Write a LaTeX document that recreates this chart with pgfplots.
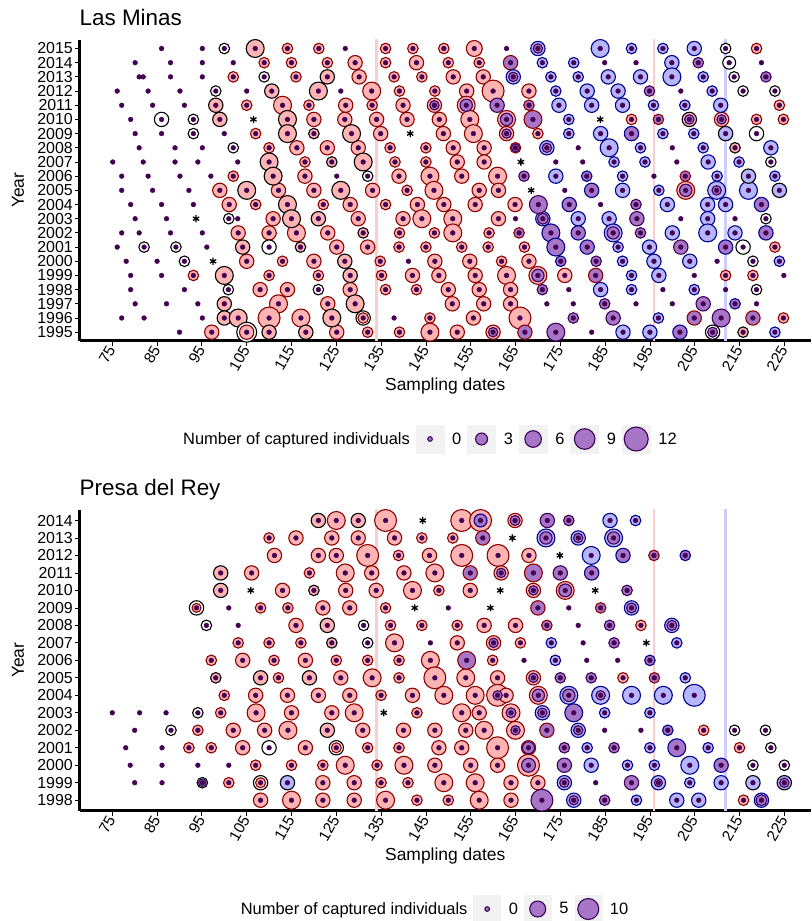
\documentclass[border=0pt]{standalone}
\usepackage{pgfplots}
\usepackage{pgfplotstable}
\pgfplotsset{compat=1.18}
\usepackage{fontspec}
\setmainfont{Liberation Sans}
\definecolor{pinkF}{RGB}{255,180,180}
\definecolor{redB}{RGB}{140,0,0}
\definecolor{blueF}{RGB}{182,182,255}
\definecolor{navyB}{RGB}{0,0,140}
\definecolor{purpF}{RGB}{168,118,198}
\definecolor{purpB}{RGB}{60,0,90}
\definecolor{dotC}{RGB}{68,1,84}
\definecolor{refP}{RGB}{255,205,205}
\definecolor{refB}{RGB}{205,205,255}
\definecolor{keyG}{RGB}{242,242,242}

% Las Minas, outer circles: d = sampling day, y = year, c = class, r = radius
\pgfplotstableread{
d y c r
86.0 2015 0 0
95.1 2015 0 0
100.0 2015 4 5.3
106.9 2015 5 9
114.1 2015 1 5.3
121.1 2015 1 5.3
127.0 2015 0 0
136.0 2015 1 5.3
142.1 2015 1 5.3
149.0 2015 1 5.3
155.8 2015 1 8
163.0 2015 0 0
170.0 2015 2 7.2
183.9 2015 2 9
190.9 2015 2 5.3
197.9 2015 2 5.3
204.9 2015 2 7.2
211.9 2015 4 5.3
218.8 2015 1 5.3
80.1 2014 0 0
88.0 2014 0 0
95.1 2014 0 0
102.0 2014 0 0
108.9 2014 1 5.3
115.0 2014 1 5.3
123.0 2014 1 5.3
129.2 2014 1 7.2
136.0 2014 1 5.3
142.9 2014 1 7.2
150.0 2014 1 5.3
156.9 2014 1 5.3
163.9 2014 7 7.2
171.0 2014 2 5.3
178.0 2014 2 5.3
184.9 2014 0 0
191.9 2014 0 0
199.9 2014 2 7.2
205.8 2014 3 5.3
212.7 2014 4 6.5
219.9 2014 0 0
81.0 2013 0 0
81.9 2013 0 0
88.0 2013 0 0
95.1 2013 0 0
102.0 2013 1 5.3
108.9 2013 4 5.3
116.0 2013 1 5.3
123.0 2013 5 7.2
130.1 2013 1 7.2
137.9 2013 1 5.3
144.1 2013 1 5.3
151.1 2013 1 7.2
157.8 2013 1 7.2
164.5 2013 2 7.2
172.9 2013 2 5.3
179.0 2013 2 5.3
185.7 2013 2 7.2
192.9 2013 2 7.2
199.9 2013 2 9
206.9 2013 2 5.3
213.8 2013 4 5.3
220.9 2013 3 5.3
76.1 2012 0 0
83.0 2012 0 0
90.1 2012 0 0
98.1 2012 4 5.3
105.0 2012 0 0
110.6 2012 5 7.2
121.0 2012 5 9
126.0 2012 0 0
132.9 2012 1 9
139.1 2012 1 5.3
147.0 2012 1 5.3
154.1 2012 1 7.2
160.0 2012 1 11
168.0 2012 1 7.2
174.0 2012 2 5.3
181.0 2012 2 7.2
187.9 2012 2 7.2
194.9 2012 3 5.3
201.9 2012 0 0
208.9 2012 2 5.3
215.8 2012 4 5.3
222.9 2012 4 5.3
77.1 2011 0 0
84.0 2011 0 0
91.1 2011 0 0
98.1 2011 5 7.2
105.0 2011 1 5.3
113.0 2011 1 9
118.9 2011 1 5.3
127.1 2011 1 7.2
133.0 2011 1 5.3
139.9 2011 1 7.2
146.9 2011 1 7.2
154.0 2011 1 9
160.9 2011 3 7.2
168.0 2011 7 5.3
174.7 2011 2 7.2
182.0 2011 2 7.2
188.9 2011 2 7.2
195.8 2011 2 5.3
202.8 2011 2 5.3
210.8 2011 2 7.2
223.9 2011 1 5.3
79.1 2010 0 0
86.0 2010 4 7.2
93.1 2010 4 5.3
99.0 2010 5 7.2
106.5 2010 9 0
114.1 2010 5 9
120.0 2010 1 7.2
126.9 2010 1 7.2
134.0 2010 1 7.2
140.8 2010 1 7.2
148.0 2010 1 7.2
154.8 2010 1 9
163.0 2010 1 9
168.9 2010 7 9
176.9 2010 2 5.3
183.9 2010 9 0
190.9 2010 1 5.3
196.9 2010 7 5.3
203.8 2010 5 7.2
211.0 2010 1 7.2
218.8 2010 1 5.3
224.8 2010 1 5.3
80.1 2009 0 0
86.0 2009 0 0
93.1 2009 4 5.3
100.0 2009 0 0
107.0 2009 1 5.3
114.1 2009 5 9
120.0 2009 5 5.3
128.4 2009 5 9
134.9 2009 1 7.2
141.5 2009 9 0
148.9 2009 1 7.2
155.6 2009 1 9
163.0 2009 1 7.2
170.0 2009 1 5.3
176.9 2009 2 5.3
184.0 2009 2 7.2
190.9 2009 8 7.2
197.9 2009 2 5.3
204.8 2009 2 5.3
211.9 2009 6 7.2
218.8 2009 4 7.2
81.0 2008 0 0
89.0 2008 0 0
95.1 2008 0 0
102.0 2008 4 5.3
110.0 2008 1 5.3
116.2 2008 1 7.2
123.0 2008 1 7.2
129.9 2008 1 7.2
137.0 2008 1 5.3
145.0 2008 1 5.3
151.1 2008 1 7.2
158.0 2008 1 7.2
165.0 2008 1 5.3
172.0 2008 2 7.2
179.0 2008 0 0
185.9 2008 2 9
192.9 2008 2 5.3
200.0 2008 0 0
206.9 2008 2 5.3
214.0 2008 5 5.3
222.0 2008 2 7.2
75.1 2007 0 0
81.9 2007 0 0
89.0 2007 0 0
94.1 2007 0 0
103.0 2007 0 0
110.0 2007 5 9
118.0 2007 1 5.3
124.0 2007 5 5.3
131.0 2007 5 9
138.1 2007 1 5.3
145.0 2007 1 5.3
152.0 2007 1 7.2
158.0 2007 1 7.2
166.2 2007 9 0
174.0 2007 0 0
180.0 2007 0 0
187.0 2007 2 5.3
193.9 2007 2 5.3
201.0 2007 0 0
208.0 2007 2 7.2
214.9 2007 2 5.3
222.0 2007 4 5.3
77.1 2006 0 0
83.0 2006 0 0
90.1 2006 0 0
97.0 2006 0 0
102.0 2006 1 5.3
110.9 2006 5 9
118.0 2006 1 7.2
125.1 2006 0 0
132.0 2006 4 5.3
139.0 2006 1 7.2
145.9 2006 1 9
153.0 2006 1 7.2
161.0 2006 1 9
166.9 2006 3 5.3
174.0 2006 2 7.2
180.9 2006 8 5.3
188.9 2006 2 5.3
195.9 2006 0 0
202.9 2006 7 5.3
210.0 2006 2 5.3
217.0 2006 6 7.2
222.9 2006 2 5.3
77.1 2005 0 0
84.0 2005 0 0
92.1 2005 0 0
99.0 2005 1 7.2
105.0 2005 5 9
112.1 2005 1 7.2
120.0 2005 1 7.2
126.0 2005 5 9
133.1 2005 1 7.2
140.8 2005 1 5.3
146.8 2005 1 9
156.9 2005 1 7.2
161.2 2005 1 7.2
168.5 2005 9 0
176.0 2005 0 0
182.0 2005 8 7.2
188.9 2005 2 7.2
197.0 2005 2 5.3
203.0 2005 1 9
209.9 2005 2 9
217.0 2005 2 9
223.9 2005 6 7.2
79.1 2004 0 0
86.0 2004 0 0
93.1 2004 0 0
101.1 2004 1 7.2
107.0 2004 1 5.3
114.1 2004 5 9
122.1 2004 1 5.3
128.1 2004 1 7.2
136.0 2004 1 5.3
143.1 2004 1 7.2
149.0 2004 1 7.2
156.0 2004 1 7.2
164.9 2004 1 7.2
170.1 2004 3 9
177.0 2004 8 7.2
184.0 2004 0 0
191.9 2004 3 5.3
198.9 2004 2 7.2
207.9 2004 2 7.2
211.9 2004 2 7.2
219.9 2004 8 7.2
80.1 2003 0 0
87.1 2003 0 0
93.7 2003 9 0
101.0 2003 4 5.3
103.0 2003 0 0
110.9 2003 1 7.2
115.0 2003 5 9
121.0 2003 5 7.2
129.9 2003 1 7.2
139.9 2003 1 7.2
144.1 2003 1 9
151.0 2003 1 9
161.2 2003 1 7.2
165.0 2003 0 0
171.1 2003 2 7.2
179.0 2003 2 7.2
185.9 2003 2 7.2
192.1 2003 3 7.2
201.9 2003 0 0
207.9 2003 2 7.2
214.0 2003 0 0
220.9 2003 4 5.3
77.1 2002 0 0
81.0 2002 0 0
88.0 2002 0 0
95.1 2002 0 0
103.1 2002 1 7.2
110.0 2002 1 7.2
116.1 2002 1 9
123.1 2002 1 7.2
131.0 2002 5 5.3
139.1 2002 1 5.3
146.9 2002 1 5.3
151.0 2002 1 9
159.1 2002 1 5.3
165.8 2002 7 5.3
172.9 2002 8 9
179.0 2002 8 7.2
186.8 2002 2 9
192.9 2002 3 5.3
200.0 2002 2 7.2
207.9 2002 2 9
214.0 2002 2 7.2
220.9 2002 8 7.2
76.1 2001 0 0
82.1 2001 4 5.3
89.2 2001 4 5.3
96.1 2001 0 0
104.1 2001 5 7.2
110.0 2001 4 7.2
117.0 2001 5 5.3
125.1 2001 1 7.2
132.0 2001 1 7.2
139.0 2001 1 5.3
145.0 2001 1 5.3
153.0 2001 1 5.3
158.9 2001 1 5.3
167.0 2001 1 5.3
174.0 2001 8 9
181.0 2001 8 7.2
187.9 2001 2 5.3
194.9 2001 2 7.2
201.9 2001 3 7.2
211.9 2001 8 7.2
215.8 2001 4 7.2
222.9 2001 1 5.3
78.1 2000 0 0
85.0 2000 0 0
91.1 2000 4 5.3
97.5 2000 9 0
105.0 2000 1 7.2
113.0 2000 1 5.3
120.0 2000 1 7.2
126.9 2000 5 7.2
134.8 2000 1 5.3
141.1 2000 0 0
147.0 2000 1 7.2
154.8 2000 1 7.2
161.9 2000 1 5.3
168.0 2000 1 7.2
175.1 2000 8 5.3
183.0 2000 3 5.3
188.9 2000 2 5.3
195.9 2000 2 7.2
203.9 2000 2 7.2
210.0 2000 0 0
218.0 2000 4 5.3
223.9 2000 2 5.3
79.1 1999 0 0
86.0 1999 0 0
93.1 1999 1 5.3
100.0 1999 5 9
110.0 1999 1 5.3
121.0 1999 1 5.3
128.1 1999 5 7.2
135.1 1999 1 5.3
142.0 1999 1 7.2
147.9 1999 1 7.2
156.0 1999 1 7.2
163.0 1999 1 9
170.0 1999 1 9
176.0 1999 1 7.2
182.9 1999 7 7.2
190.9 1999 2 5.3
197.0 1999 2 7.2
204.9 1999 0 0
211.9 1999 1 5.3
218.0 1999 1 5.3
224.9 1999 0 0
79.1 1998 0 0
91.1 1998 0 0
100.9 1998 4 5.3
108.0 1998 1 7.2
114.1 1998 1 7.2
121.0 1998 4 5.3
128.1 1998 1 7.2
136.0 1998 1 5.3
142.9 1998 1 5.3
150.0 1998 1 7.2
156.9 1998 1 7.2
163.9 1998 1 7.2
171.0 1998 3 5.3
176.9 1998 0 0
184.0 1998 2 7.2
190.9 1998 2 5.3
197.9 1998 0 0
204.9 1998 2 5.3
211.9 1998 0 0
218.8 1998 4 5.3
80.1 1997 0 0
87.1 1997 0 0
94.1 1997 0 0
100.0 1997 5 7.2
112.1 1997 1 9
123.1 1997 1 7.2
129.2 1997 5 9
150.9 1997 1 7.2
157.9 1997 1 7.2
163.9 1997 1 7.2
172.0 1997 0 0
177.9 1997 0 0
184.9 1997 3 5.3
191.9 1997 0 0
200.0 1997 0 0
206.9 1997 3 7.2
214.0 1997 8 5.3
218.8 1997 0 0
77.1 1996 0 0
82.1 1996 0 0
95.1 1996 0 0
100.0 1996 5 7.2
103.1 1996 5 9
110.0 1996 1 11
117.1 1996 1 9
124.0 1996 5 9
131.0 1996 4 7.2
137.9 1996 0 0
145.9 1996 1 5.3
155.6 1996 1 7.2
166.0 1996 1 11
177.9 1996 3 5.3
186.8 1996 3 7.2
196.9 1996 2 5.3
204.9 1996 7 7.2
210.9 1996 3 9
218.0 1996 7 7.2
224.8 1996 1 5.3
90.0 1995 0 0
97.2 1995 1 7.2
105.0 1995 4 10
110.0 1995 5 7.2
118.2 1995 5 7.2
125.1 1995 1 7.2
132.0 1995 1 5.3
139.1 1995 1 5.3
145.9 1995 1 9
152.0 1995 1 7.2
160.0 1995 1 7.2
167.1 1995 7 7.2
174.0 1995 3 9
182.0 1995 0 0
189.0 1995 2 7.2
195.0 1995 2 7.2
201.7 1995 8 7.2
209.0 1995 4 7.2
215.8 1995 5 5.3
222.9 1995 2 5.3
}\TA

% Las Minas, inner circles
\pgfplotstableread{
d y c r
170.0 2015 3 4.7
164.5 2013 3 4.7
146.9 2011 3 4.7
154.0 2011 3 6.2
163.0 2010 3 6.2
203.8 2010 3 4.7
211.0 2010 3 4.7
163.0 2009 3 4.7
165.0 2008 3 4.0
172.0 2008 3 4.7
203.0 2005 3 6.2
209.9 2005 3 4.7
171.1 2003 3 5.5
186.8 2002 3 6.2
170.0 1999 3 6.2
131.0 1996 1 5.3
105.0 1995 1 7.2
160.0 1995 3 4.7
209.0 1995 3 5.0
}\TB

% Presa del Rey, outer circles
\pgfplotstableread{
d y c r
121.0 2014 5 7.2
125.0 2014 1 9
129.9 2014 5 7.2
136.0 2014 1 11
144.3 2014 9 0
153.0 2014 1 11
157.2 2014 1 11
164.9 2014 1 7.2
172.1 2014 3 7.2
176.9 2014 3 5.3
186.1 2014 2 7.2
191.8 2014 2 5.3
110.0 2013 1 5.3
116.0 2013 1 7.2
124.0 2013 1 7.2
129.9 2013 1 7.2
138.0 2013 1 7.2
144.1 2013 1 5.3
151.0 2013 1 5.3
157.7 2013 7 7.2
164.3 2013 9 0
171.8 2013 2 9
179.0 2013 2 7.2
186.9 2013 2 9
111.2 2012 1 7.2
121.0 2012 1 7.2
125.0 2012 1 7.2
132.0 2012 1 11
138.9 2012 1 5.3
145.8 2012 1 7.2
153.0 2012 1 11
161.1 2012 1 11
168.0 2012 1 7.2
174.9 2012 9 0
181.9 2012 2 9
189.0 2012 8 7.2
195.9 2012 7 5.3
202.9 2012 8 5.3
99.2 2011 5 7.2
106.1 2011 1 7.2
119.0 2011 1 5.3
127.0 2011 1 9
132.9 2011 1 7.2
140.1 2011 1 7.2
147.0 2011 1 9
154.9 2011 7 7.2
161.8 2011 1 7.2
169.0 2011 7 9
175.0 2011 3 7.2
182.0 2011 8 7.2
99.2 2010 5 7.2
105.9 2010 9 0
113.0 2010 1 7.2
120.0 2010 5 5.3
127.1 2010 1 7.2
133.9 2010 1 7.2
142.0 2010 1 9
147.9 2010 1 5.3
154.9 2010 1 7.2
161.6 2010 9 0
169.0 2010 1 7.2
176.1 2010 1 9
182.8 2010 9 0
189.9 2010 3 5.3
93.8 2009 4 7.2
101.0 2009 0 0
108.1 2009 1 5.3
114.2 2009 1 5.3
122.0 2009 1 7.2
128.0 2009 1 7.2
136.0 2009 1 5.3
142.5 2009 9 0
150.0 2009 0 0
159.4 2009 9 0
170.0 2009 7 7.2
176.9 2009 0 0
184.0 2009 7 5.3
190.9 2009 2 7.2
96.0 2008 4 5.3
103.1 2008 0 0
116.0 2008 1 7.2
123.0 2008 5 7.2
131.1 2008 4 5.3
137.1 2008 1 5.3
144.1 2008 1 5.3
152.0 2008 1 5.3
158.0 2008 1 7.2
165.0 2008 1 7.2
172.0 2008 7 5.3
179.0 2008 0 0
186.0 2008 3 5.3
193.0 2008 1 5.3
199.9 2008 2 7.2
103.1 2007 1 5.3
110.0 2007 1 5.3
117.1 2007 1 5.3
124.0 2007 5 5.3
132.0 2007 4 5.3
138.0 2007 1 9
146.0 2007 0 0
152.0 2007 1 7.2
160.1 2007 1 7.2
166.1 2007 1 5.3
173.0 2007 2 5.3
180.1 2007 0 0
187.0 2007 3 5.3
194.2 2007 9 0
201.0 2007 2 5.3
97.1 2006 1 5.3
104.1 2006 1 7.2
111.1 2006 1 5.3
118.1 2006 1 7.2
125.0 2006 1 5.3
132.0 2006 1 5.3
139.0 2006 1 5.3
146.0 2006 1 9
154.1 2006 7 9
159.9 2006 1 5.3
166.9 2006 0 0
173.9 2006 2 5.3
180.9 2006 0 0
187.8 2006 0 0
195.0 2006 8 5.3
98.1 2005 5 5.3
108.1 2005 5 7.2
112.1 2005 1 5.3
119.0 2005 5 7.2
126.0 2005 1 7.2
133.0 2005 1 9
139.0 2005 1 5.3
147.0 2005 1 11
153.9 2005 1 9
161.0 2005 1 7.2
169.0 2005 1 7.2
175.0 2005 3 5.3
181.9 2005 3 5.3
189.0 2005 1 5.3
196.0 2005 7 5.3
202.9 2005 2 5.3
100.0 2004 1 5.3
107.0 2004 1 7.2
114.1 2004 1 7.2
121.0 2004 1 7.2
128.0 2004 1 7.2
135.0 2004 1 5.3
142.0 2004 1 7.2
149.0 2004 1 9
156.0 2004 1 9
161.0 2004 1 11
162.9 2004 1 7.2
170.1 2004 1 9
176.9 2004 2 9
184.0 2004 2 9
190.9 2004 2 9
198.0 2004 2 9
204.9 2004 2 11
75.0 2003 0 0
81.1 2003 0 0
87.0 2003 0 0
94.1 2003 4 5.3
99.2 2003 1 5.3
107.1 2003 1 9
115.0 2003 1 7.2
124.0 2003 1 7.2
129.0 2003 1 9
135.6 2003 9 0
143.0 2003 1 5.3
153.0 2003 1 9
156.9 2003 1 7.2
164.0 2003 1 9
171.0 2003 2 7.2
178.0 2003 8 9
184.9 2003 2 5.3
195.0 2003 2 5.3
80.0 2002 0 0
88.1 2002 4 5.3
94.1 2002 1 5.3
102.0 2002 1 7.2
109.0 2002 1 7.2
114.2 2002 1 9
123.0 2002 5 7.2
130.9 2002 1 7.2
140.0 2002 1 7.2
147.0 2002 1 7.2
153.9 2002 1 7.2
158.0 2002 1 9
165.0 2002 1 9
172.0 2002 7 7.2
179.0 2002 2 7.2
184.9 2002 0 0
193.0 2002 0 0
199.0 2002 8 5.3
207.0 2002 1 5.3
213.9 2002 4 5.3
220.8 2002 4 5.3
78.0 2001 0 0
86.1 2001 0 0
92.1 2001 1 5.3
97.1 2001 1 5.3
104.1 2001 1 7.2
110.0 2001 4 7.2
118.1 2001 1 7.2
125.0 2001 4 7.2
132.0 2001 1 5.3
139.0 2001 1 5.3
147.9 2001 1 7.2
153.0 2001 1 7.2
161.0 2001 1 11
167.9 2001 1 7.2
175.9 2001 3 5.3
181.0 2001 2 5.3
187.0 2001 3 5.3
195.0 2001 2 5.3
201.0 2001 8 9
208.0 2001 2 5.3
215.0 2001 1 5.3
222.0 2001 4 5.3
79.0 2000 0 0
86.1 2000 0 0
94.1 2000 0 0
101.0 2000 0 0
107.0 2000 1 5.3
115.0 2000 1 5.3
122.0 2000 1 5.3
127.0 2000 1 9
134.1 2000 1 5.3
140.1 2000 1 9
147.0 2000 1 7.2
155.0 2000 1 7.2
161.0 2000 1 7.2
167.9 2000 1 11
175.9 2000 3 7.2
181.9 2000 2 7.2
190.0 2000 2 5.3
196.0 2000 2 5.3
203.9 2000 2 9
210.9 2000 8 7.2
218.0 2000 4 5.3
225.0 2000 4 5.3
80.0 1999 0 0
86.1 1999 0 0
95.1 1999 4 5.3
101.0 1999 1 5.3
108.1 1999 4 7.2
114.1 1999 6 7.2
122.0 1999 1 7.2
129.0 1999 1 7.2
135.0 1999 1 5.3
141.0 1999 1 5.3
149.0 1999 1 9
156.0 1999 1 9
164.0 1999 1 7.2
170.0 1999 1 7.2
175.9 1999 2 7.2
182.9 1999 0 0
190.9 1999 3 7.2
196.9 1999 2 7.2
203.9 1999 2 5.3
210.9 1999 2 7.2
218.0 1999 6 7.2
225.0 1999 6 7.2
108.1 1998 1 7.2
115.0 1998 1 9
122.0 1998 1 7.2
129.0 1998 1 7.2
136.0 1998 1 9
143.0 1998 1 5.3
150.0 1998 1 5.3
156.9 1998 1 9
164.0 1998 1 7.2
170.9 1998 3 11
178.0 1998 2 7.2
184.9 1998 3 5.3
192.0 1998 2 5.3
201.0 1998 2 7.2
205.9 1998 2 7.2
215.9 1998 1 5.3
219.9 1998 2 7.2
}\TC

% Presa del Rey, inner circles
\pgfplotstableread{
d y c r
157.2 2014 8 6.5
164.9 2014 3 5.0
171.8 2013 3 6.2
179.0 2013 3 4.7
186.9 2013 3 6.2
161.8 2011 3 4.7
169.0 2010 3 4.7
176.1 2010 3 6.5
93.8 2009 1 4.5
190.9 2009 3 5.0
199.9 2008 3 5.0
160.1 2007 3 4.7
169.0 2005 3 4.7
161.0 2004 3 4.7
170.1 2004 3 6.2
176.9 2004 3 6.2
184.0 2004 3 4.7
164.0 2003 3 5.0
171.0 2003 3 4.7
165.0 2002 3 4.7
179.0 2002 3 4.7
125.0 2001 1 5.0
167.9 2001 3 6.0
167.9 2000 3 7.0
95.1 1999 3 3.8
108.1 1999 1 5.0
175.9 1999 3 4.7
196.9 1999 3 4.0
225.0 1999 3 4.7
178.0 1998 3 4.7
219.9 1998 3 5.5
}\TD

\pgfplotsset{
  circ/.style n args={3}{scatter, only marks, mark=*, line width=1.1bp, forget plot,
    scatter/use mapped color={draw=#3, fill=#2},
    visualization depends on={\thisrow{r} \as \rad},
    scatter/@pre marker code/.append style={/tikz/mark size=\rad},
    restrict expr to domain={\thisrow{c}}{#1:#1}},
  dots/.style={only marks, mark=*, mark size=2.4, color=dotC, forget plot,
    restrict expr to domain={\thisrow{c}}{0:8}},
  stars/.style={only marks, mark=asterisk, mark size=3.6, black, line width=1.3bp, forget plot,
    restrict expr to domain={\thisrow{c}}{9:9}},
  panel/.style={
    scale only axis, width=731.5bp, height=300.7bp,
    xmin=67.68, xmax=230.96,
    axis lines=left, axis line style={-, line width=2.4bp, black},
    tick align=outside, major tick length=5bp, tick style={black, line width=0.8bp},
    xtick={75,85,...,225},
    /pgf/number format/assume math mode=true,
    /pgf/number format/1000 sep={},
    xticklabel style={rotate=60, anchor=east, inner sep=1.5bp, font=\fontsize{15.5}{15.5}\selectfont},
    yticklabel style={inner sep=1.5bp, font=\fontsize{16}{16}\selectfont},
    xlabel={Sampling dates}, ylabel={Year},
    every axis x label/.style={at={(axis description cs:0.5,-0.15)}, anchor=center,
      font=\fontsize{17.5}{17.5}\selectfont},
    every axis y label/.style={at={(axis description cs:-0.084,0.5)}, rotate=90, anchor=center,
      font=\fontsize{17.5}{17.5}\selectfont},
    title style={at={(axis description cs:0,1)}, anchor=base west, yshift=9bp, inner sep=0pt,
      font=\fontsize{22.5}{22.5}\selectfont},
    legend style={draw=none, fill=none, anchor=west, inner sep=0pt, legend columns=-1,
      font=\fontsize{16.5}{16.5}\selectfont,
      /tikz/every odd column/.append style={column sep=8bp},
      /tikz/every even column/.append style={column sep=6bp},
      nodes={inner sep=0pt}},
  },
  refs/.style={line width=2.6bp, forget plot},
}

\newcommand{\allcircles}[2]{%
  \addplot[circ={1}{pinkF}{redB}] table[x=d,y=y] {#1};
  \addplot[circ={5}{pinkF}{black}] table[x=d,y=y] {#1};
  \addplot[circ={7}{purpF}{redB}] table[x=d,y=y] {#1};
  \addplot[circ={2}{blueF}{navyB}] table[x=d,y=y] {#1};
  \addplot[circ={6}{blueF}{black}] table[x=d,y=y] {#1};
  \addplot[circ={8}{purpF}{navyB}] table[x=d,y=y] {#1};
  \addplot[circ={3}{purpF}{purpB}] table[x=d,y=y] {#1};
  \addplot[circ={4}{white}{black}] table[x=d,y=y] {#1};
  \addplot[circ={1}{pinkF}{redB}] table[x=d,y=y] {#2};
  \addplot[circ={3}{purpF}{purpB}] table[x=d,y=y] {#2};
  \addplot[circ={8}{purpF}{navyB}] table[x=d,y=y] {#2};
  \addplot[dots] table[x=d,y=y] {#1};
  \addplot[stars] table[x=d,y=y] {#1};
}

\newcommand{\keyimg}[2]{\addlegendimage{legend image code/.code={%
  \fill[keyG] (0bp,-#2) rectangle (2*#2,#2);
  \filldraw[fill=purpF, draw=purpB, line width=1.1bp] (#2,0bp) circle (#1);}}}

\begin{document}
\begin{tikzpicture}
\useasboundingbox (0,0) rectangle (812bp,921bp);
\begin{axis}[panel, at={(79.5bp,580.3bp)}, anchor=south west,
  ymin=1994.4, ymax=2015.6, ytick={1995,1996,...,2015},
  title={Las Minas},
  legend style={at={(axis description cs:0.1306,-0.327)}}]
\addplot[refs, refP] coordinates {(134.0,1990) (134.0,2020)};
\addplot[refs, refP] coordinates {(195.9,1990) (195.9,2020)};
\addplot[refs, refB] coordinates {(211.9,1990) (211.9,2020)};
\allcircles{\TA}{\TB}
\addlegendimage{empty legend}\addlegendentry{Number of captured individuals}
\keyimg{2.3bp}{14bp}\addlegendentry{0}
\keyimg{6bp}{14bp}\addlegendentry{3}
\keyimg{8.3bp}{14bp}\addlegendentry{6}
\keyimg{10.3bp}{14bp}\addlegendentry{9}
\keyimg{12bp}{14bp}\addlegendentry{12}
\end{axis}

\begin{axis}[panel, at={(79.5bp,110.3bp)}, anchor=south west,
  ymin=1997.4, ymax=2014.6, ytick={1998,1999,...,2014},
  title={Presa del Rey},
  legend style={at={(axis description cs:0.2094,-0.327)}}]
\addplot[refs, refP] coordinates {(134.0,1990) (134.0,2020)};
\addplot[refs, refP] coordinates {(195.9,1990) (195.9,2020)};
\addplot[refs, refB] coordinates {(211.9,1990) (211.9,2020)};
\allcircles{\TC}{\TD}
\addlegendimage{empty legend}\addlegendentry{Number of captured individuals}
\keyimg{2.3bp}{13.5bp}\addlegendentry{0}
\keyimg{8bp}{13.5bp}\addlegendentry{5}
\keyimg{10.5bp}{13.5bp}\addlegendentry{10}
\end{axis}
\end{tikzpicture}
\end{document}
